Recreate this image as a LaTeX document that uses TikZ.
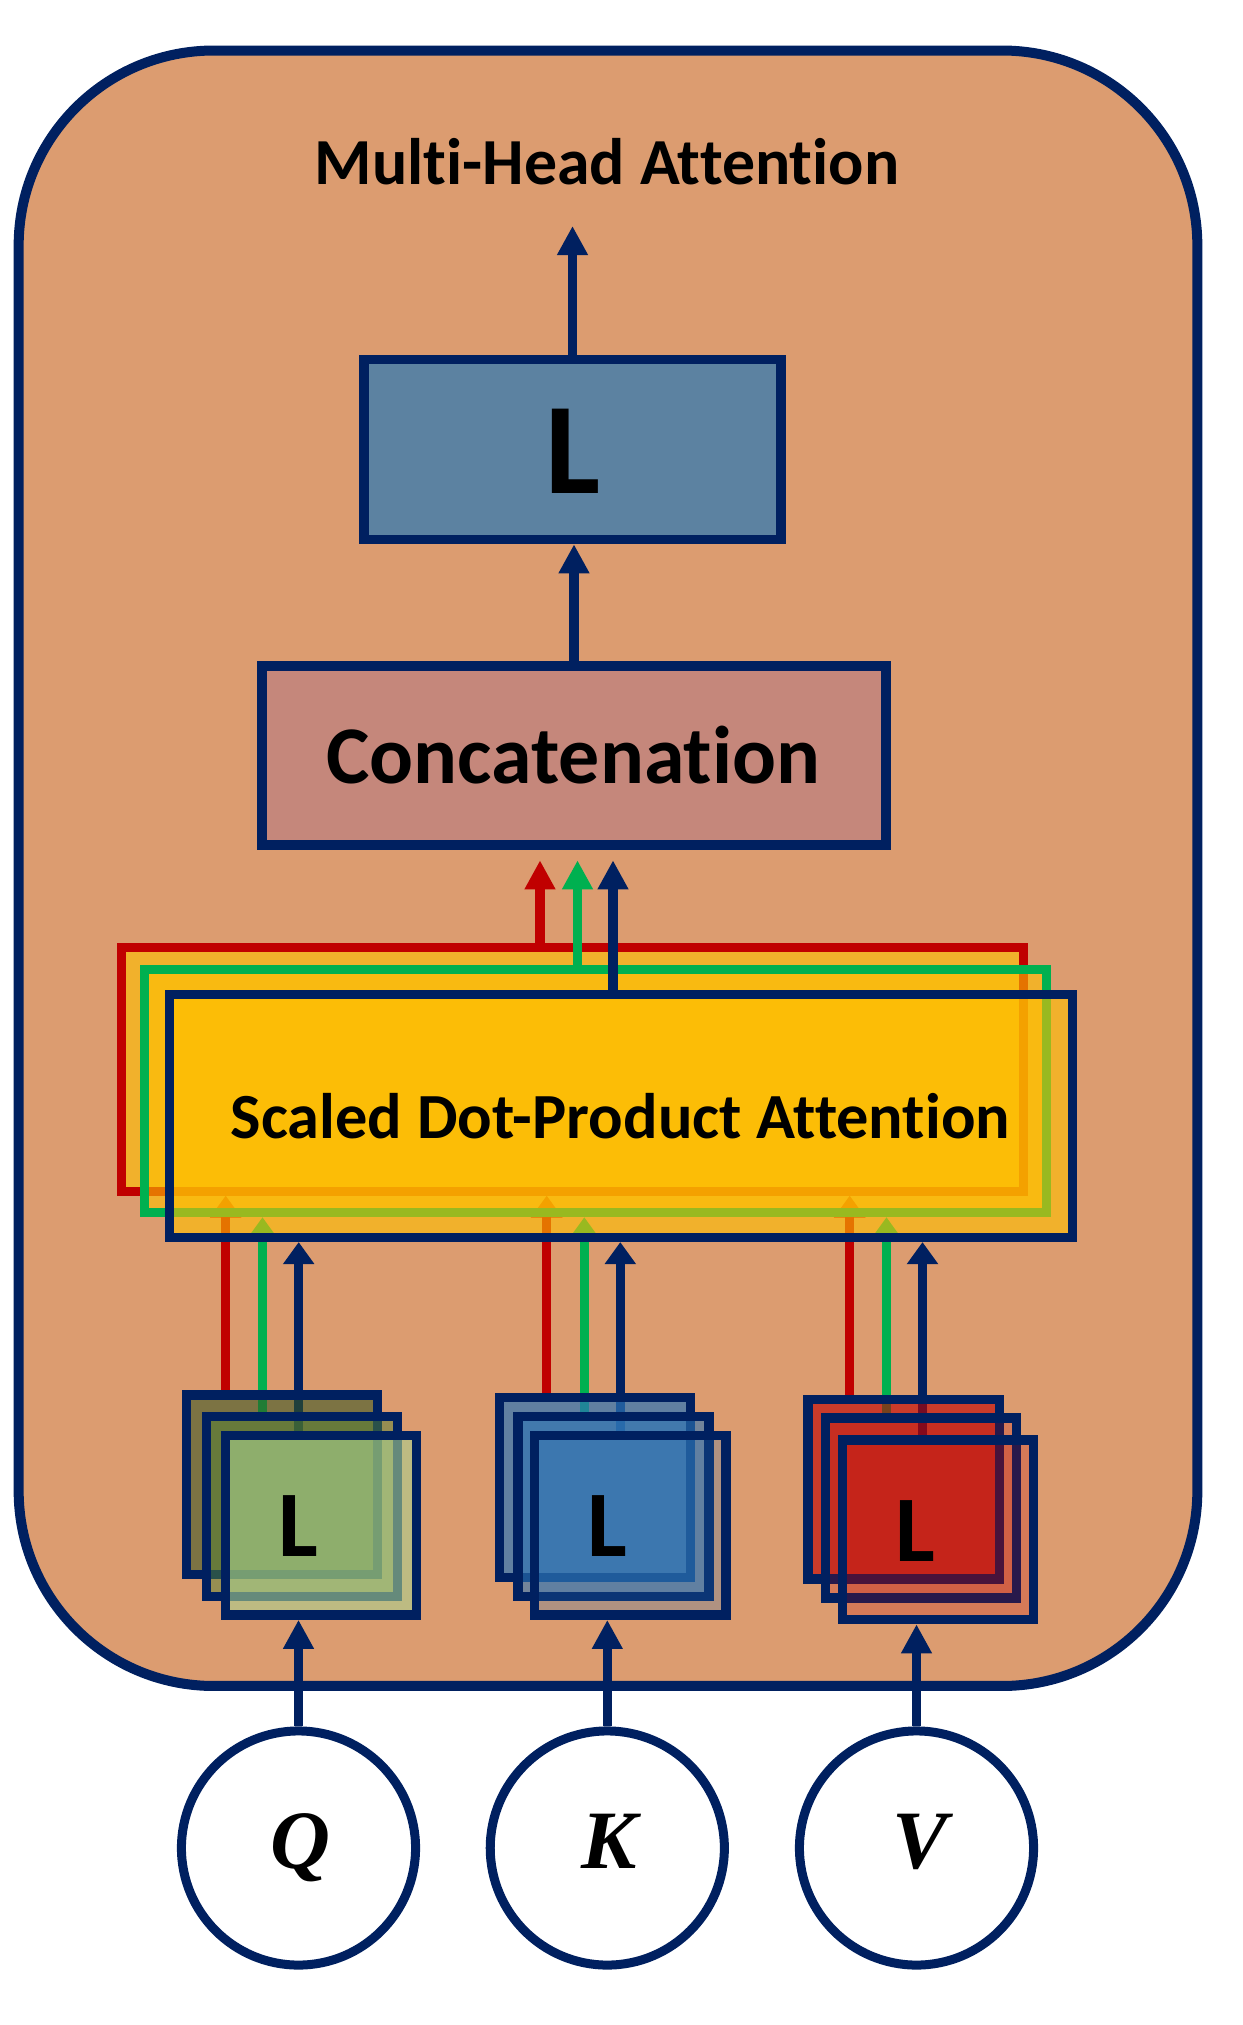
\documentclass[tikz,border=0pt]{standalone}
\usepackage{fontspec}
\setmainfont{Carlito}[Ligatures=NoCommon]
\newfontfamily\qkvfont{Liberation Serif}
\usetikzlibrary{arrows.meta,calc}
\definecolor{navy}{HTML}{002060}
\definecolor{bgc}{HTML}{DC9C70}
\definecolor{redc}{HTML}{C00000}
\definecolor{greenc}{HTML}{00B050}
\definecolor{gold}{HTML}{FFC000}
\definecolor{lboxc}{HTML}{5C82A1}
\definecolor{catc}{HTML}{C5877B}
\definecolor{qa}{HTML}{385723}
\definecolor{qb}{HTML}{548235}
\definecolor{qc}{HTML}{A9D18E}
\definecolor{kb}{HTML}{2E75B6}
\begin{document}
\begin{tikzpicture}[x=0.01cm,y=-0.01cm,
  arr/.style={line width=0.095cm,-{Triangle[length=0.29cm,width=0.29cm]}},
  sarr/.style={line width=0.095cm,-{Triangle[length=0.22cm,width=0.30cm]}},
  lbox/.style={draw=navy,line width=0.095cm,rectangle,inner sep=0pt,minimum width=1.91cm,minimum height=1.795cm},
  sdpa/.style={line width=0.09cm,rectangle,inner sep=0pt,fill=gold,fill opacity=0.6,minimum width=9.02cm,minimum height=2.43cm},
  inp/.style={circle,draw=navy,line width=0.09cm,fill=white,inner sep=0pt,minimum size=2.34cm},
  ltxt/.style={anchor=base,inner sep=0pt,font=\fontsize{26.7pt}{28pt}\selectfont\bfseries},
  qkv/.style={anchor=base,inner sep=0pt,font=\qkvfont\fontsize{23.6pt}{25pt}\selectfont\bfseries\itshape}]
\useasboundingbox (0,0) rectangle (1242,2025);
% outer container
\node[draw=navy,line width=0.1cm,fill=bgc,rounded corners=1.95cm,rectangle,inner sep=0pt,
  minimum width=11.78cm,minimum height=16.345cm] (outer) at (608,868.25) {};
\node[anchor=base,inner sep=0pt,font=\fontsize{18.7pt}{20pt}\selectfont\bfseries] (title) at (607,185) {Multi-Head Attention};
\coordinate (top) at (572.5,226);
% linear output box
\node[draw=navy,line width=0.095cm,fill=lboxc,rectangle,inner sep=0pt,minimum width=4.17cm,minimum height=1.80cm] (lin) at (572.5,449.5) {};
\node[anchor=base,inner sep=0pt,font=\fontsize{37pt}{40pt}\selectfont\bfseries] (linL) at (572.5,493.3) {L};
\draw[arr,navy] (lin.north) -- (top);
% concatenation
\node[draw=navy,line width=0.095cm,fill=catc,rectangle,inner sep=0pt,minimum width=6.24cm,minimum height=1.79cm] (cat) at (574,755.5) {};
\node[anchor=base,inner sep=0pt,font=\fontsize{23.3pt}{25pt}\selectfont\bfseries] (catT) at (573.4,783.5) {Concatenation};
\draw[arr,navy] (cat.north) -- (cat.north |- lin.south);
% x positions
\coordinate (xr) at (540,0);
\coordinate (xg) at (577.5,0);
\coordinate (xn) at (613,0);
\coordinate (qr) at (225.7,0);
\coordinate (qg) at (262.5,0);
\coordinate (qn) at (298.7,0);
\coordinate (kr) at (546.7,0);
\coordinate (kg) at (584.3,0);
\coordinate (kn) at (620.3,0);
\coordinate (vr) at (849.7,0);
\coordinate (vg) at (886.5,0);
\coordinate (vn) at (922.5,0);
% L stacks (reference positions)
\path (281.9,1484.85) node[lbox,draw=none] (q1) {} (301.9,1506.5) node[lbox,draw=none] (q2) {} (320.9,1525.25) node[lbox,draw=none] (q3) {};
\path (594.8,1487.5) node[lbox,draw=none] (k1) {} (613.5,1506.5) node[lbox,draw=none] (k2) {} (630.2,1525.35) node[lbox,draw=none] (k3) {};
\path (903.75,1489.25) node[lbox,draw=none] (v1) {} (921.15,1508) node[lbox,draw=none] (v2) {} (937.9,1529.75) node[lbox,draw=none] (v3) {};
% red head
\node[sdpa,draw=redc] (sr) at (572.3,1069.5) {};
\draw[arr,redc,shorten >=0.105cm] (xr |- sr.north) -- (xr |- cat.south);
\draw[sarr,redc] (qr |- q1.north) -- (qr |- sr.south);
\draw[sarr,redc] (kr |- k1.north) -- (kr |- sr.south);
\draw[sarr,redc] (vr |- v1.north) -- (vr |- sr.south);
% green head
\node[sdpa,draw=greenc] (sg) at (595.5,1091.1) {};
\draw[arr,greenc,shorten >=0.105cm] (xg |- sg.north) -- (xg |- cat.south);
\draw[sarr,greenc] (qg |- q2.north) -- (qg |- sg.south);
\draw[sarr,greenc] (kg |- k2.north) -- (kg |- sg.south);
\draw[sarr,greenc] (vg |- v2.north) -- (vg |- sg.south);
% navy head
\node[sdpa,draw=navy] (sn) at (621.25,1116) {};
\draw[arr,navy,shorten >=0.105cm] (xn |- sn.north) -- (xn |- cat.south);
\draw[sarr,navy] (qn |- q3.north) -- (qn |- sn.south);
\draw[sarr,navy] (kn |- k3.north) -- (kn |- sn.south);
\draw[sarr,navy] (vn |- v3.north) -- (vn |- sn.south);
\node[anchor=base,inner sep=0pt,font=\fontsize{18.3pt}{20pt}\selectfont\bfseries] (sdpaT) at (620.5,1138) {Scaled Dot-Product Attention};
% L boxes drawn
\node[lbox,fill=qa,fill opacity=0.58] (q1d) at (q1) {};
\node[lbox,fill=qb,fill opacity=0.5] (q2d) at (q2) {};
\node[lbox,fill=qc,fill opacity=0.6] (q3d) at (q3) {};
\node[lbox,fill=kb,fill opacity=0.7] (k1d) at (k1) {};
\node[lbox,fill=kb,fill opacity=0.6] (k2d) at (k2) {};
\node[lbox,fill=kb,fill opacity=0.25] (k3d) at (k3) {};
\node[lbox,fill=redc,fill opacity=0.62] (v1d) at (v1) {};
\node[lbox,fill=redc,fill opacity=0.21] (v2d) at (v2) {};
\node[lbox,fill=redc,fill opacity=0.21] (v3d) at (v3) {};
\node[ltxt] (qL) at (298,1556) {L};
\node[ltxt] (kL) at (607,1556) {L};
\node[ltxt] (vL) at (915,1561) {L};
% inputs
\node[inp] (qc) at (298.5,1848) {};
\node[inp] (kc) at (607.3,1848) {};
\node[inp] (vc) at (916.5,1848) {};
\node[qkv] (qT) at (300,1868) {Q};
\node[qkv] (kT) at (609,1868) {K};
\node[qkv] (vT) at (920,1868) {V};
\draw[arr,navy] (qc.north) -- (qc.north |- q3.south);
\draw[arr,navy] (kc.north) -- (kc.north |- k3.south);
\draw[arr,navy] (vc.north) -- (vc.north |- v3.south);
\end{tikzpicture}
\end{document}
